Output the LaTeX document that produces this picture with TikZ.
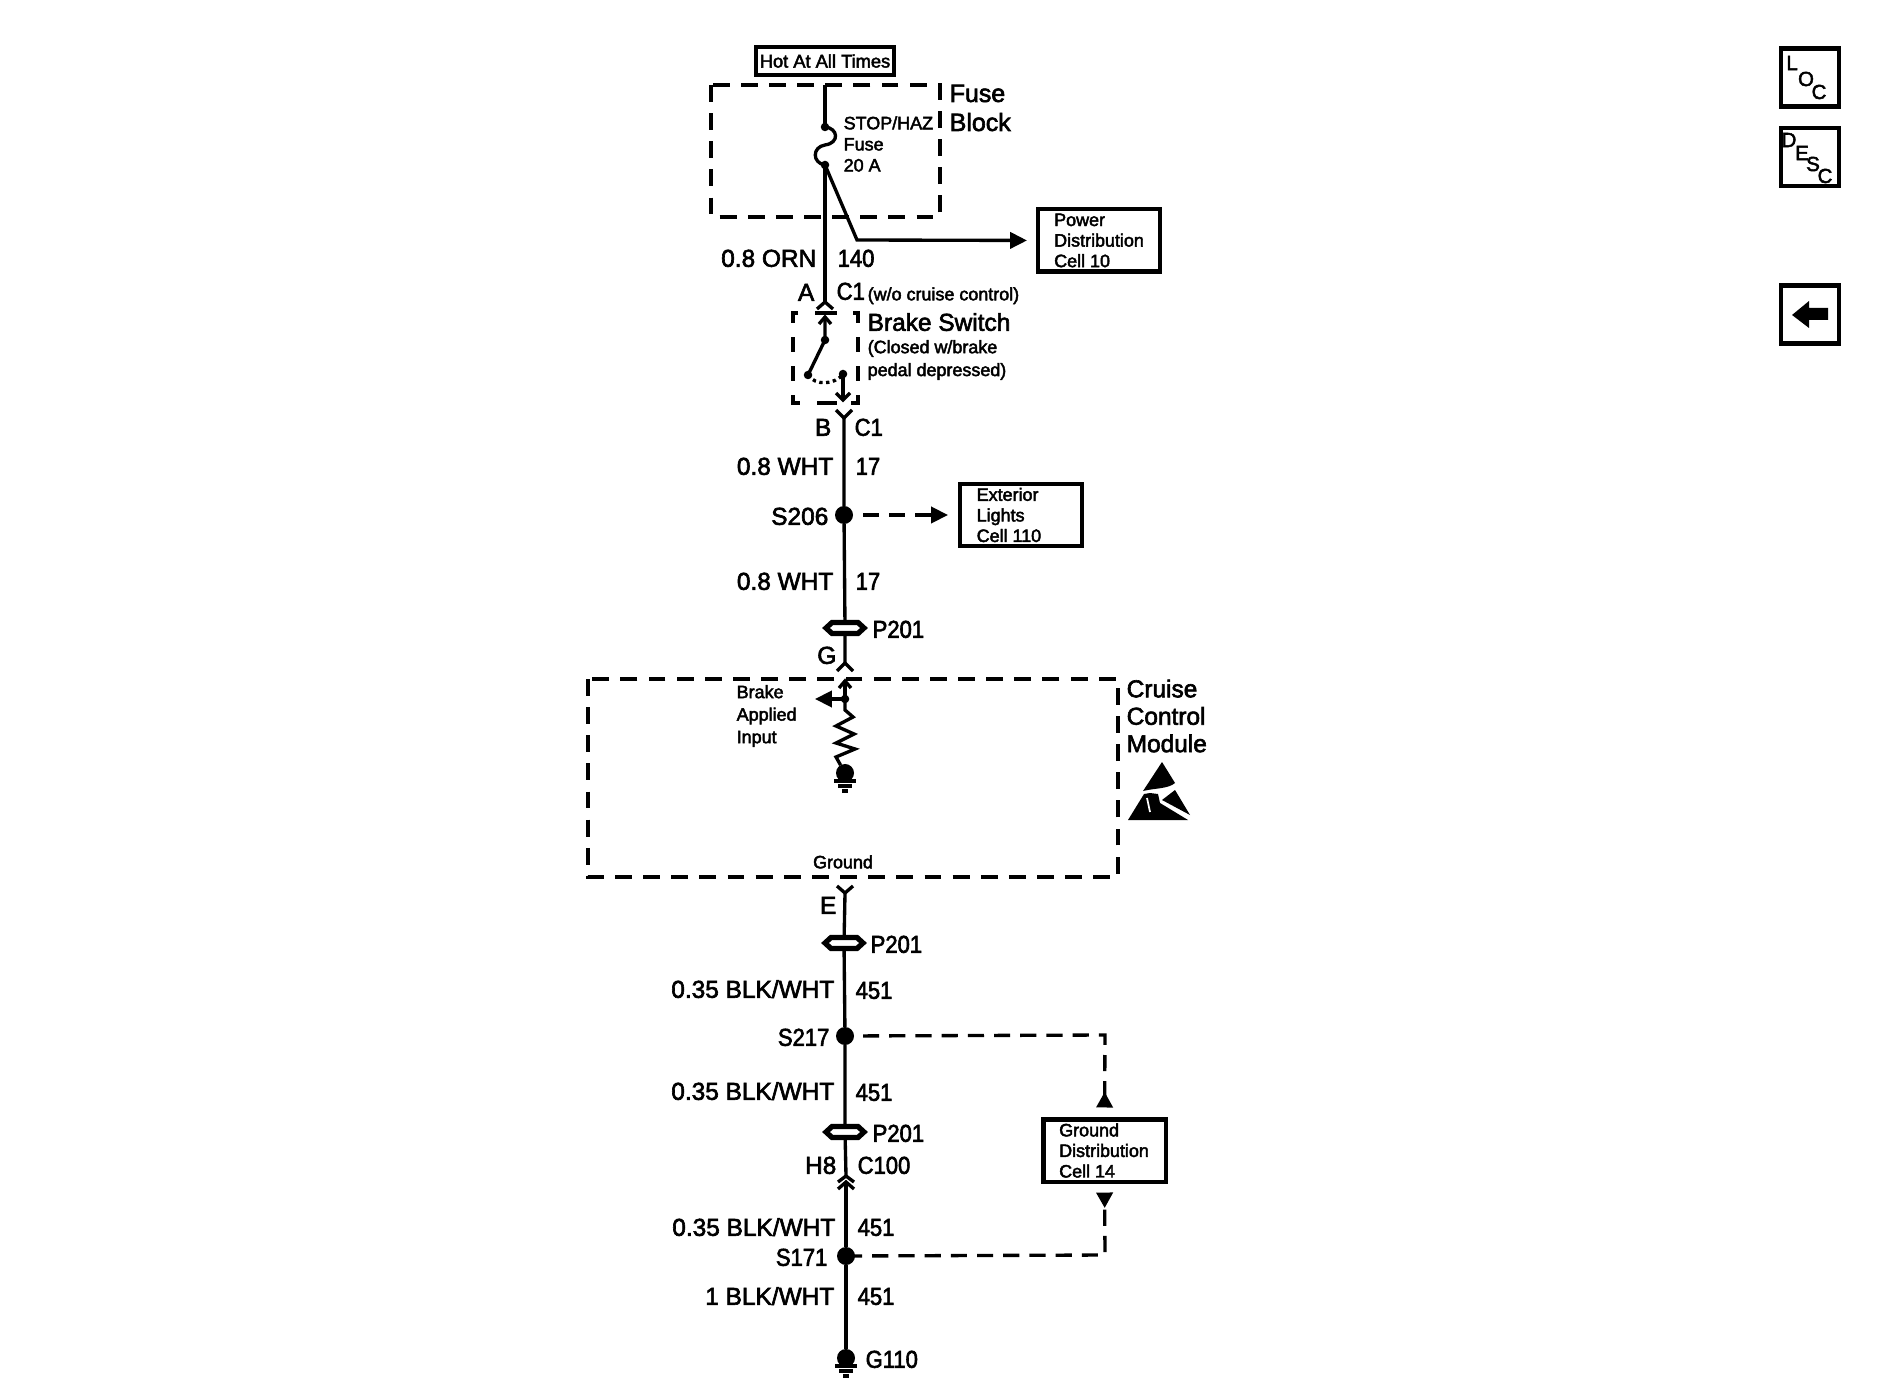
\documentclass[tikz,border=0pt]{standalone}
\usepackage{fontspec}
\setmainfont{Liberation Sans}[FakeBold=2.5]
\newfontfamily\numfont{Liberation Sans}[FakeBold=2.5,FakeStretch=0.9]
\usetikzlibrary{arrows.meta}

\tikzset{
  wire/.style={line width=0.95pt},
  dashwire/.style={wire, dash pattern=on 4.6pt off 2.85pt},
  housing/.style={line width=1.15pt, dash pattern=on 4.8pt off 3.2pt},
  switchcase/.style={line width=1.15pt, dash pattern=on 4.27pt off 3.98pt},
  headtip/.style={-{Triangle[length=4.8pt,width=4.6pt]}},
  backtip/.style={-{Triangle[length=4.4pt,width=4.6pt,reversed]}},
  biglabel/.style={inner sep=0pt, text height=5pt, text depth=0pt, font=\fontsize{6.95}{8}\selectfont},
  numlabel/.style={inner sep=0pt, text height=5pt, text depth=0pt, font=\numfont\fontsize{6.95}{8}\selectfont},
  smalllabel/.style={inner sep=0pt, text height=3.6pt, text depth=0pt, font=\fontsize{5.1}{6}\selectfont},
  blocklabel/.style={inner sep=0pt, align=left, anchor=west, font=\fontsize{5.1}{5.85}\selectfont},
  headblock/.style={inner sep=0pt, align=left, anchor=west},
  cellbox/.style={draw, line width=1.15pt, minimum width=1.22cm, minimum height=0.62cm, inner sep=0pt, outer sep=0pt},
  splice/.style={circle, fill=black, inner sep=0pt, outer sep=0pt, minimum size=0.18cm},
  contact/.style={circle, fill=black, inner sep=0pt, outer sep=0pt, minimum size=0.085cm},
  stamp/.style={draw, line width=1.2pt, minimum size=0.58cm, inner sep=0pt, outer sep=0pt},
  stampletter/.style={inner sep=0pt, font=\fontsize{5.8}{6}\selectfont}
}
\newcommand{\plugmark}[2]{\draw[wire] ([shift={(-8,#2)}]#1.center) -- (#1.center) -- ([shift={(8,#2)}]#1.center);}
\newcommand{\inlinemark}[1]{\draw[line width=1.5pt, fill=white] ([shift={(-19,0)}]#1.center) -- ([shift={(-13,-5.5)}]#1.center) -- ([shift={(13,-5.5)}]#1.center) -- ([shift={(19,0)}]#1.center) -- ([shift={(13,5.5)}]#1.center) -- ([shift={(-13,5.5)}]#1.center) -- cycle;}
\newcommand{\groundmark}[1]{
  \draw[wire] ([shift={(-11,8)}]#1.center) -- ([shift={(11,8)}]#1.center);
  \draw[wire] ([shift={(-7,13)}]#1.center) -- ([shift={(7,13)}]#1.center);
  \draw[wire] ([shift={(-3,18)}]#1.center) -- ([shift={(3,18)}]#1.center);
}

\begin{document}
\begin{tikzpicture}[x=0.01cm,y=-0.01cm]
\useasboundingbox (0,0) rectangle (1880,1392);

% Supply and fuse block
\node[draw, line width=1.2pt, minimum width=1.38cm, minimum height=0.28cm, inner sep=0pt, font=\fontsize{5.2}{6}\selectfont] (hot) at (825,61) {Hot At All Times};
\draw[housing] (711,85) rectangle (940,217);
\node[headblock, font=\fontsize{7.1}{8.25}\selectfont] (fuseblock) at (949,108) {Fuse\\Block};
\node[blocklabel, font=\fontsize{5.1}{6}\selectfont] (fusetext) at (843,144) {STOP/HAZ\\Fuse\\20 A};
\coordinate (feed) at (825,85);
\node[contact] (fusetop) at (825,127) {};
\node[contact] (fusebot) at (825,165) {};
\coordinate (plugA) at (825,302);
\coordinate (bend) at (857,240);
\draw[wire] (feed) -- (fusetop.center);
\draw[wire] (fusetop.center) .. controls (838,128) and (840,143) .. (825,145) .. controls (812,147) and (812,163) .. (fusebot.center);
\draw[wire] (fusebot.center) -- (plugA);
\plugmark{plugA}{7}

% Power distribution branch
\node[cellbox] (power) at (1099,240.5) {};
\node[blocklabel] (powertext) at ([xshift=0.155cm]power.west) {Power\\Distribution\\Cell 10};
\draw[wire, headtip, shorten >=0.11cm] (fusebot.center) -- (bend) -- (power.west);

\node[biglabel, anchor=east] (wireA) at (817,258) {0.8 ORN};
\node[numlabel, anchor=west] (circA) at (837,258) {140};
\node[biglabel, anchor=east] (pinA) at (815,292) {A};
\node[numlabel, anchor=west] (connA) at (836,291) {C1};
\node[smalllabel, anchor=west] (noteA) at (867,294) {(w/o cruise control)};

% Brake switch
\draw[switchcase] (798,313) -- (793,313) -- (793,403) -- (803,403);
\draw[switchcase] (853,313) -- (858,313) -- (858,403) -- (848,403);
\coordinate (barL) at (815,313);
\coordinate (barR) at (837,313);
\coordinate (baseL) at (817,403);
\coordinate (baseR) at (837,403);
\draw[line width=1.15pt] (barL) -- (barR);
\draw[line width=1.15pt] (baseL) -- (baseR);
\node[biglabel, anchor=west] (brake) at (867,322) {Brake Switch};
\node[blocklabel, font=\fontsize{5.1}{6.5}\selectfont] (braketext) at (867,360) {(Closed w/brake\\pedal depressed)};
\coordinate (swtop) at (825,317);
\node[contact] (pivot) at (825,340) {};
\node[contact] (blade) at (808,375) {};
\node[contact] (stop) at (843,374) {};
\coordinate (swout) at (843,400);
\draw[wire] (swtop) -- (pivot.center) -- (blade.center);
\draw[wire] ([shift={(-6,7)}]swtop) -- (swtop) -- ([shift={(6,7)}]swtop);
\draw[wire, densely dotted] (blade.center) .. controls (815,386) and (835,385) .. (stop.center);
\draw[wire] (stop.center) -- (swout);
\draw[wire] ([shift={(-7,-7)}]swout) -- (swout) -- ([shift={(7,-7)}]swout);

% Down to the module
\coordinate (plugB) at (844,418);
\plugmark{plugB}{-8}
\node[biglabel, anchor=east] (pinB) at (832,427) {B};
\node[numlabel, anchor=west] (connB) at (854,427) {C1};
\node[biglabel, anchor=east] (wireB) at (834,466) {0.8 WHT};
\node[numlabel, anchor=west] (circB) at (855,466) {17};
\node[splice] (s206) at (844,515) {};
\node[biglabel, anchor=east] (s206text) at (829,516) {S206};
\node[cellbox] (exterior) at (1021,515) {};
\node[blocklabel] (exteriortext) at ([xshift=0.16cm]exterior.west) {Exterior\\Lights\\Cell 110};
\draw[dashwire, headtip, shorten <=0.19cm, shorten >=0.12cm] (s206.center) -- (exterior.west);
\node[biglabel, anchor=east] (wireC) at (834,581) {0.8 WHT};
\node[numlabel, anchor=west] (circC) at (855,581) {17};
\coordinate (p201a) at (845,628);
\coordinate (plugG) at (845,663);
\draw[wire] (plugB) -- (s206) -- (p201a) -- (plugG);
\inlinemark{p201a}
\plugmark{plugG}{8}
\node[numlabel, anchor=west] (p201atext) at (872,629) {P201};
\node[biglabel, anchor=east] (pinG) at (837,655) {G};

% Cruise control module
\draw[housing] (588,679) rectangle (1118,877);
\node[headblock, font=\fontsize{6.95}{7.8}\selectfont] (cruise) at (1126,716) {Cruise\\Control\\Module};
\node[blocklabel, font=\fontsize{5.1}{6.4}\selectfont] (inputtext) at (736,716) {Brake\\Applied\\Input};
\node[smalllabel] (groundtext) at (843,862) {Ground};
\coordinate (inlet) at (845,681);
\node[contact] (tap) at (845,699) {};
\coordinate (tapend) at (815,699);
\node[splice] (modgnd) at (845,773) {};
\draw[wire] ([shift={(-6,7)}]inlet) -- (inlet) -- ([shift={(6,7)}]inlet);
\draw[wire] (inlet) -- (tap.center);
\draw[wire, headtip] (tap.center) -- (tapend);
\draw[wire, line join=miter] (tap.center) -- (845,710) -- (853,717) -- (836,726) -- (854,734) -- (836,743) -- (855,749) -- (836,757) -- (modgnd);
\groundmark{modgnd}

% Static warning mark
\fill (1162,762) -- (1175,783) .. controls (1168,789) and (1155,788) .. (1143,791) -- cycle;
\fill (1144,794) -- (1128,820) -- (1188,820) -- (1160,803) -- (1158,794) -- (1150,793) -- cycle;
\fill (1175,790) -- (1190,815) -- (1162,800) -- cycle;
\draw[white, line width=0.5pt] (1147,798) -- (1150,812);

% Ground side
\coordinate (plugE) at (845,893);
\plugmark{plugE}{-7}
\node[biglabel, anchor=east] (pinE) at (837,905) {E};
\coordinate (p201b) at (844,943);
\node[numlabel, anchor=west] (p201btext) at (870,944) {P201};
\node[biglabel, anchor=east] (wireD) at (835,989) {0.35 BLK/WHT};
\node[numlabel, anchor=west] (circD) at (855,990) {451};
\node[splice] (s217) at (845,1036) {};
\node[numlabel, anchor=east] (s217text) at (830,1037) {S217};
\node[biglabel, anchor=east] (wireE) at (835,1091) {0.35 BLK/WHT};
\node[numlabel, anchor=west] (circE) at (855,1092) {451};
\coordinate (p201c) at (845,1132);
\node[numlabel, anchor=west] (p201ctext) at (872,1133) {P201};
\node[biglabel, anchor=east] (pinH) at (837,1165) {H8};
\node[numlabel, anchor=west] (connH) at (857,1165) {C100};
\coordinate (plugH) at (846,1176);
\coordinate (plugJ) at (846,1182);
\draw[wire] (plugE) -- (p201b) -- (s217) -- (p201c) -- (plugH);
\inlinemark{p201b}
\inlinemark{p201c}
\plugmark{plugH}{6}
\plugmark{plugJ}{7}
\node[biglabel, anchor=east] (wireF) at (836,1227) {0.35 BLK/WHT};
\node[numlabel, anchor=west] (circF) at (857,1227) {451};
\node[splice] (s171) at (846,1256) {};
\node[numlabel, anchor=east] (s171text) at (828,1257) {S171};
\node[biglabel, anchor=east] (wireG) at (835,1296) {1 BLK/WHT};
\node[numlabel, anchor=west] (circG) at (857,1296) {451};
\node[splice] (g110) at (846,1358) {};
\node[numlabel, anchor=west] (g110text) at (865,1359) {G110};
\draw[wire] (plugJ) -- (s171) -- (g110);
\groundmark{g110}

% Ground distribution
\node[cellbox] (grounddist) at (1104.5,1150.5) {};
\node[blocklabel] (grounddisttext) at ([xshift=0.15cm]grounddist.west) {Ground\\Distribution\\Cell 14};
\draw[dashwire, backtip, shorten <=0.18cm, shorten >=0.12cm] (s217.center) -- (1105,1035) -- (grounddist.north);
\draw[dashwire, backtip, shorten >=0.11cm] (s171.center) -- (1105,1255) -- (grounddist.south);

% Buttons on the right
\node[stamp] (locbox) at (1810,77.5) {};
\node[stampletter] (locL) at (1792,63) {L};
\node[stampletter] (locO) at (1806,79) {O};
\node[stampletter] (locC) at (1819,92) {C};
\node[stamp] (descbox) at (1810,157) {};
\node[stampletter] (descD) at (1789,140) {D};
\node[stampletter] (descE) at (1802,153) {E};
\node[stampletter] (descS) at (1813,164) {S};
\node[stampletter] (descC) at (1825,176) {C};
\node[stamp] (backbox) at (1810,314.5) {};
\fill (1792,315) -- (1809,301) -- (1809,308) -- (1828,308) -- (1828,320) -- (1809,320) -- (1809,328) -- cycle;
\end{tikzpicture}
\end{document}
